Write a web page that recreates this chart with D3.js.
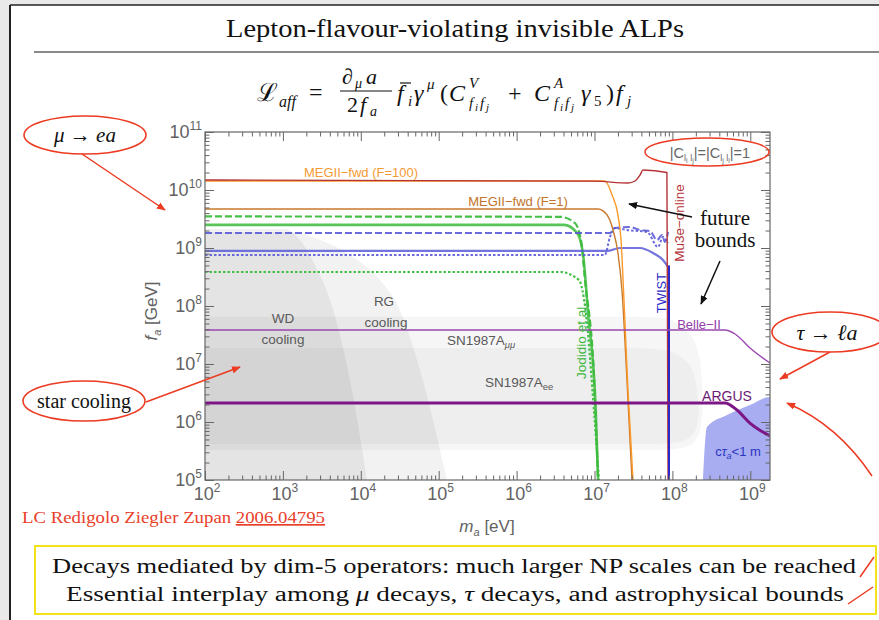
<!DOCTYPE html>
<html><head><meta charset="utf-8">
<script src="https://cdn.jsdelivr.net/npm/d3@7/dist/d3.min.js"></script>
<style>
html,body{margin:0;padding:0;background:#fff;}
svg{display:block;}
</style></head>
<body>
<svg id="chart" width="879" height="620"></svg>
<script>
// ---------------- DATA ----------------
const xTickVals = [1e2,1e3,1e4,1e5,1e6,1e7,1e8,1e9];
const xTickExps = ["2","3","4","5","6","7","8","9"];
const yTickVals = [1e5,1e6,1e7,1e8,1e9,1e10,1e11];
const yTickExps = ["5","6","7","8","9","10","11"];

// [m_a (eV), f_a (GeV)]
const megF100 = [[1e2,1.43e10],[1.36e7,1.43e10],[1.68e7,8.2e9],[2.0e7,3.7e9],[2.19e7,1.37e9],[2.39e7,1.27e8],[2.69e7,3.56e6],[3.12e7,1e5]];
const megF1   = [[1e2,4.7e9],[1.11e7,4.7e9],[1.45e7,3.7e9],[1.73e7,2.04e9],[2.0e7,8.2e8],[2.25e7,1.89e8],[2.61e7,5.3e6],[3.03e7,1e5]];
const mu3e    = [[1e2,1.49e10],[1.0e7,1.42e10],[2.69e7,1.32e10],[3.31e7,1.43e10],[3.84e7,1.81e10],[4.2e7,2.21e10],[8.5e7,2.0e10],[8.8e7,1e5]];
const greenDashed = [[1e2,3.5e9],[3.6e6,3.45e9],[5.6e6,2.7e9],[6.7e6,1.37e9],[7.55e6,2.8e8],[9.9e6,5.3e6],[1.11e7,1e5]];
const greenSolid  = [[1e2,2.5e9],[4.06e6,2.5e9],[5.96e6,1.82e9],[7.1e6,8.2e8],[8.26e6,7.6e7],[1.04e7,1.43e6],[1.11e7,1e5]];
const greenDotted = [[1e2,3.86e8],[3.6e6,3.86e8],[6.32e6,2.8e8],[7.75e6,7.6e7],[9.9e6,1.43e6],[1.14e7,1e5]];
const blueDashed = [[1e2,1.82e9],[1.58e7,1.82e9],[1.83e7,2.21e9],[2.86e7,2.3e9],[3.84e7,2.04e9],[5.15e7,1.96e9],[6.34e7,1.37e9],[7.35e7,1.67e9],[8.03e7,1.27e9],[8.8e7,1.89e9]];
const blueDotted = [[1e2,7.6e8],[1.36e7,7.6e8],[1.58e7,1.55e9],[1.83e7,2.21e9],[2.61e7,2.04e9],[4.72e7,1.89e9],[6.53e7,1.04e9],[7.57e7,1.55e9],[8.8e7,1.22e9]];
const blueSolid  = [[1e2,8.9e8],[1.45e7,8.9e8],[2.12e7,1.0e9],[3.84e7,1.0e9],[5.64e7,8.2e8],[7.57e7,6.2e8],[8.8e7,4.7e8]];
const twist      = [[9.05e7,5.0e8],[9.05e7,1e5]];
const belle2     = [[1e2,3.86e7],[4.73e8,3.86e7],[6.37e8,3.29e7],[9.9e8,1.89e7],[1.79e9,1.04e7]];
const argus      = [[1e2,2.13e6],[4.73e8,2.13e6],[6.74e8,1.61e6],[9.9e8,9.6e5],[1.79e9,5.74e5]];
const ctauRegion = [[2.47e8,1e5],[2.78e8,8.2e5],[5.02e8,1.32e6],[9.9e8,1.96e6],[1.79e9,2.7e6],[1.79e9,1e5]];
// star-cooling regions: [m, f_top, f_bottom]
const wdRegion  = [[50,2.13e9,1e4],[1.06e3,2.13e9,1e4],[1.66e3,1.37e9,1e4],[2.58e3,5.1e8,1e4],[4.03e3,1.27e8,1e4],[7.26e3,5.3e6,1e4],[1.2e4,1e5,1e4]];
const rgRegion  = [[50,1.89e9,1e4],[1.23e3,1.89e9,1e4],[3.0e3,1.37e9,1e4],[7.26e3,7.6e8,1e4],[1.76e4,2.8e8,1e4],[3.18e4,8.5e7,1e4],[5.75e4,7.9e6,1e4],[1.28e5,1e5,1e4]];
const snMuRegion = [[50,6.5e7,3.29e5],[3.84e7,6.5e7,3.29e5],[6.93e7,6.2e7,3.29e5],[1.08e8,5.3e7,3.42e5],[1.58e8,3.56e7,3.85e5],[2.07e8,1.89e7,5.3e5],[2.33e8,7.9e6,8.9e5],[2.47e8,2.39e6,2.39e6]];
const snEeRegion = [[50,1.89e7,4.18e5],[2.86e7,1.89e7,4.18e5],[5.98e7,1.82e7,4.18e5],[9.9e7,1.61e7,4.35e5],[1.45e8,1.17e7,4.9e5],[1.84e8,7.3e6,6.2e5],[2.07e8,3.56e6,8.9e5],[2.19e8,1.61e6,1.61e6]];

// ---------------- SETUP ----------------
const svg = d3.select('#chart');
const X0=205, X1=770, Y0=480, Y1=132;
const x = d3.scaleLog().domain([1e2,1.79e9]).range([X0,X1]);
const y = d3.scaleLog().domain([1e5,1e11]).range([Y0,Y1]);

const defs = svg.append('defs');
defs.append('clipPath').attr('id','plotclip').append('rect')
  .attr('x',X0).attr('y',Y1).attr('width',X1-X0).attr('height',Y0-Y1);
function marker(id,color){
  defs.append('marker').attr('id',id).attr('viewBox','0 0 10 10').attr('refX',9).attr('refY',5)
    .attr('markerWidth',9).attr('markerHeight',9).attr('markerUnits','userSpaceOnUse').attr('orient','auto')
    .append('path').attr('d','M0,1 L10,5 L0,9 z').attr('fill',color);
}
marker('arrRed','#ec3b22');
marker('arrBlack','#111');

// slide background / frame
svg.append('rect').attr('x',0).attr('y',0).attr('width',879).attr('height',620).attr('fill','#e9e9e9');
svg.append('rect').attr('x',10).attr('y',5).attr('width',869).attr('height',615).attr('fill','#fff');
svg.append('line').attr('x1',10).attr('x2',10).attr('y1',5).attr('y2',620).attr('stroke','#222').attr('stroke-width',2);
svg.append('line').attr('x1',10).attr('x2',879).attr('y1',5).attr('y2',5).attr('stroke','#222').attr('stroke-width',1.5);

function T(xp,yp,s,attrs){
  const t=svg.append('text').attr('x',xp).attr('y',yp).text(s);
  for(const k in attrs) t.attr(k,attrs[k]);
  return t;
}
const serif="'Liberation Serif','Times New Roman',serif";
const sans="'Liberation Sans',Arial,sans-serif";

// title
T(455,37,"Lepton-flavour-violating invisible ALPs",{'font-family':serif,'font-size':25,'text-anchor':'middle','fill':'#111','textLength':458,'lengthAdjust':'spacingAndGlyphs'});
svg.append('line').attr('x1',34).attr('x2',879).attr('y1',52).attr('y2',52).attr('stroke','#8a8a8a').attr('stroke-width',2);

// formula
const fm={'font-family':serif,'fill':'#111'};
const fi=Object.assign({'font-style':'italic'},fm);
T(257,101,"ℒ",Object.assign({'font-size':25,'font-family':"'DejaVu Serif',serif"},{fill:'#111'}));
T(279,107,"aff",Object.assign({'font-size':16},fi));
T(309,100,"=",Object.assign({'font-size':24},fm));
T(342,84,"∂",Object.assign({'font-size':22},fi));
T(355,88,"μ",Object.assign({'font-size':14},fi));
T(366,84,"a",Object.assign({'font-size':22},fi));
svg.append('line').attr('x1',340).attr('x2',392).attr('y1',91).attr('y2',91).attr('stroke','#111').attr('stroke-width',1.2);
T(347,112,"2",Object.assign({'font-size':22},fm));
T(360,112,"f",Object.assign({'font-size':22},fi));
T(370,116,"a",Object.assign({'font-size':14},fi));
T(397,101,"f",Object.assign({'font-size':24},fi));
svg.append('line').attr('x1',400).attr('x2',411).attr('y1',83).attr('y2',83).attr('stroke','#111').attr('stroke-width',1.2);
T(408,106,"i",Object.assign({'font-size':15},fi));
T(414,101,"γ",Object.assign({'font-size':24},fi));
T(427,89,"μ",Object.assign({'font-size':15},fi));
T(440,101,"(",Object.assign({'font-size':24},fm));
T(449,101,"C",Object.assign({'font-size':24},fi));
T(469,88,"V",Object.assign({'font-size':15},fi));
T(469,108,"f",Object.assign({'font-size':15},fi)); T(475,111,"i",Object.assign({'font-size':11},fi));
T(480,108,"f",Object.assign({'font-size':15},fi)); T(486,111,"j",Object.assign({'font-size':11},fi));
T(508,101,"+",Object.assign({'font-size':24},fm));
T(534,101,"C",Object.assign({'font-size':24},fi));
T(554,88,"A",Object.assign({'font-size':15},fi));
T(554,108,"f",Object.assign({'font-size':15},fi)); T(560,111,"i",Object.assign({'font-size':11},fi));
T(565,108,"f",Object.assign({'font-size':15},fi)); T(571,111,"j",Object.assign({'font-size':11},fi));
T(581,101,"γ",Object.assign({'font-size':24},fi));
T(594,106,"5",Object.assign({'font-size':15},fm));
T(606,101,")",Object.assign({'font-size':24},fm));
T(616,101,"f",Object.assign({'font-size':24},fi));
T(627,106,"j",Object.assign({'font-size':15},fi));

// ---------------- PLOT ----------------
const plot = svg.append('g').attr('clip-path','url(#plotclip)');
const bandArea = d3.area().x(d=>x(d[0])).y0(d=>y(d[2])).y1(d=>y(d[1])).curve(d3.curveMonotoneX);
plot.append('path').attr('d',bandArea(wdRegion)).attr('fill','#000').attr('fill-opacity',0.055);
plot.append('path').attr('d',bandArea(rgRegion)).attr('fill','#000').attr('fill-opacity',0.05);
plot.append('path').attr('d',bandArea(snMuRegion)).attr('fill','#000').attr('fill-opacity',0.035);
plot.append('path').attr('d',bandArea(snEeRegion)).attr('fill','#000').attr('fill-opacity',0.03);

plot.append('path').attr('d',d3.line().x(d=>x(d[0])).y(d=>y(d[1])).curve(d3.curveMonotoneX)(ctauRegion))
  .attr('fill','#9fa3ef').attr('fill-opacity',0.9);

const L = d3.line().x(d=>x(d[0])).y(d=>y(d[1])).curve(d3.curveMonotoneX);
const Llin = d3.line().x(d=>x(d[0])).y(d=>y(d[1]));
function draw(data,color,w,dash,op,lin){
  plot.append('path').attr('d',(lin?Llin:L)(data)).attr('fill','none').attr('stroke',color)
    .attr('stroke-width',w).attr('stroke-dasharray',dash||null).attr('stroke-opacity',op||1)
    .attr('stroke-linejoin','round');
}
draw(greenDotted,'#46c046',2.2,'2.5,2');
draw(greenDashed,'#46c046',2.2,'7,3');
draw(greenSolid,'#3cba3c',2.6,null,0.85);
draw(blueDashed,'#5a5ad6',2,'7,3',0.9);
draw(blueDotted,'#5a5ad6',2,'2.5,2',0.9);
draw(blueSolid,'#5c5cd8',2.2,null,0.85);
draw(megF1,'#c97a2c',1.4);
draw(megF100,'#fb9a2a',1.4);
draw(mu3e,'#b53336',1.4);
draw(twist,'#2a2ac8',2,null,1,true);
draw(belle2,'#9a48b0',1.4);
draw(argus,'#7c1686',3);

// ---------------- AXES ----------------
const minorVals = (maj,max)=>{const a=[];maj.forEach(v=>{for(let k=2;k<10;k++){if(v*k<=max)a.push(v*k);}});return a;};
const xMinor = minorVals(xTickVals,1.79e9);
const yMinor = minorVals(yTickVals.slice(0,-1),1e11);
function ax(gen,tx,ty,vals,len){
  const g=svg.append('g').attr('transform',`translate(${tx},${ty})`)
    .call(gen.tickValues(vals).tickSize(len).tickSizeOuter(0).tickFormat(''));
  g.select('.domain').remove();
  g.selectAll('line').attr('stroke','#666').attr('stroke-width',1);
  return g;
}
ax(d3.axisBottom(x),0,Y0,xTickVals,-9); ax(d3.axisBottom(x),0,Y0,xMinor,-4.5);
ax(d3.axisTop(x),0,Y1,xTickVals,-9);    ax(d3.axisTop(x),0,Y1,xMinor,-4.5);
ax(d3.axisLeft(y),X0,0,yTickVals,-9);   ax(d3.axisLeft(y),X0,0,yMinor,-4.5);
ax(d3.axisRight(y),X1,0,yTickVals,-9);  ax(d3.axisRight(y),X1,0,yMinor,-4.5);
svg.append('rect').attr('x',X0).attr('y',Y1).attr('width',X1-X0).attr('height',Y0-Y1)
  .attr('fill','none').attr('stroke','#666').attr('stroke-width',1.2);

const tickCol='#626262';
xTickVals.forEach((v,i)=>{
  const t=svg.append('text').attr('x',x(v)+2).attr('y',Y0+20).attr('text-anchor','middle')
    .attr('font-family',sans).attr('font-size',18).attr('fill',tickCol);
  t.append('tspan').text('10');
  t.append('tspan').attr('dy',-8).attr('font-size',12).text(xTickExps[i]);
});
yTickVals.forEach((v,i)=>{
  const t=svg.append('text').attr('x',X0-3).attr('y',y(v)+6).attr('text-anchor','end')
    .attr('font-family',sans).attr('font-size',18).attr('fill',tickCol);
  t.append('tspan').text('10');
  t.append('tspan').attr('dy',-8).attr('font-size',12).text(yTickExps[i]);
});
// axis titles
{
  const t=svg.append('text').attr('x',487).attr('y',532).attr('text-anchor','middle')
    .attr('font-family',sans).attr('font-size',17).attr('fill',tickCol);
  t.append('tspan').attr('font-style','italic').text('m');
  t.append('tspan').attr('font-size',11).attr('dy',4).attr('font-style','italic').text('a');
  t.append('tspan').attr('dy',-4).text(' [eV]');
  const u=svg.append('text').attr('transform','translate(157,311) rotate(-90)').attr('text-anchor','middle')
    .attr('font-family',sans).attr('font-size',17).attr('fill',tickCol);
  u.append('tspan').attr('font-style','italic').text('f');
  u.append('tspan').attr('font-size',11).attr('dy',4).attr('font-style','italic').text('a');
  u.append('tspan').attr('dy',-4).text(' [GeV]');
}

// ---------------- PLOT LABELS ----------------
const lab=(xp,yp,s,col,sz,anchor)=>T(xp,yp,s,{'font-family':sans,'font-size':sz||13,'fill':col,'text-anchor':anchor||'middle'});
lab(361,177,"MEGII−fwd (F=100)",'#f49a34',13);
lab(518,206,"MEGII−fwd (F=1)",'#c07328',13);
lab(283,323,"WD",'#595959',13.5); lab(283,344,"cooling",'#595959',13.5);
lab(384,306,"RG",'#595959',13.5); lab(386,327,"cooling",'#595959',13.5);
{
  const t=lab(447,345,"SN1987A",'#595959',13.5,'start');
  t.append('tspan').attr('font-size',9.5).attr('dy',3).attr('font-style','italic').text('μμ');
  const u=lab(485,387,"SN1987A",'#595959',13.5,'start');
  u.append('tspan').attr('font-size',9.5).attr('dy',3).text('ee');
}
lab(699,329,"Belle−II",'#9040a8',13);
lab(727,401,"ARGUS",'#6c1a78',14);
{
  const t=lab(738,456,"c",'#2a36c0',13);
  t.append('tspan').attr('font-style','italic').text('τ');
  t.append('tspan').attr('font-size',9).attr('dy',3).attr('font-style','italic').text('a');
  t.append('tspan').attr('dy',-3).text('<1 m');
}
const rot=(xp,yp,s,col,sz)=>T(0,0,s,{'font-family':sans,'font-size':sz,'fill':col,'text-anchor':'middle','transform':`translate(${xp},${yp}) rotate(-90)`,'dy':'0.36em'});
rot(581,341,"Jodidio et al.",'#3cb83c',13.5);
rot(661,293,"TWIST",'#2a2ac8',13);
rot(679,223,"Mu3e−online",'#b53336',13.5);

// |C| label
{
  const t=T(710,158,"|C",{'font-family':sans,'font-size':14.5,'fill':'#666','text-anchor':'middle'});
  t.append('tspan').attr('font-size',9).attr('dy',3).text('l');
  t.append('tspan').attr('font-size',7).attr('dy',2).text('i');
  t.append('tspan').attr('font-size',9).attr('dy',-2).text(' l');
  t.append('tspan').attr('font-size',7).attr('dy',2).text('j');
  t.append('tspan').attr('dy',-5).text('|=|C');
  t.append('tspan').attr('font-size',9).attr('dy',3).text('l');
  t.append('tspan').attr('font-size',7).attr('dy',2).text('j');
  t.append('tspan').attr('font-size',9).attr('dy',-2).text(' l');
  t.append('tspan').attr('font-size',7).attr('dy',2).text('i');
  t.append('tspan').attr('dy',-5).text('|=1');
}
svg.append('ellipse').attr('cx',707).attr('cy',152).attr('rx',62).attr('ry',14)
  .attr('fill','none').attr('stroke','#ec3b22').attr('stroke-width',1.5);

// future bounds
T(725,225,"future",{'font-family':serif,'font-size':21,'fill':'#111','text-anchor':'middle'});
T(725,247,"bounds",{'font-family':serif,'font-size':21,'fill':'#111','text-anchor':'middle'});
svg.append('line').attr('x1',692).attr('y1',217).attr('x2',629).attr('y2',204).attr('stroke','#111').attr('stroke-width',1.5).attr('marker-end','url(#arrBlack)');
svg.append('line').attr('x1',720).attr('y1',261).attr('x2',701).attr('y2',304).attr('stroke','#111').attr('stroke-width',1.5).attr('marker-end','url(#arrBlack)');

// ---------------- ANNOTATIONS ----------------
const red='#ec3b22';
function ell(cx,cy,rx,ry){svg.append('ellipse').attr('cx',cx).attr('cy',cy).attr('rx',rx).attr('ry',ry).attr('fill','none').attr('stroke',red).attr('stroke-width',1.6);}
ell(85,135,61,19);
{
  const t=T(85,142,"",{'font-family':serif,'font-size':21,'fill':'#111','text-anchor':'middle'});
  t.append('tspan').attr('font-style','italic').text('μ');
  t.append('tspan').text(' → ');
  t.append('tspan').attr('font-style','italic').text('ea');
}
svg.append('line').attr('x1',82).attr('y1',154).attr('x2',165).attr('y2',210).attr('stroke',red).attr('stroke-width',1.5).attr('marker-end','url(#arrRed)');
ell(84,401,61,20);
T(84,408,"star cooling",{'font-family':serif,'font-size':20,'fill':'#111','text-anchor':'middle'});
svg.append('line').attr('x1',146).attr('y1',402).attr('x2',240).attr('y2',367).attr('stroke',red).attr('stroke-width',1.5).attr('marker-end','url(#arrRed)');
ell(830,332,58,20);
{
  const t=T(827,340,"",{'font-family':serif,'font-size':22,'fill':'#111','text-anchor':'middle'});
  t.append('tspan').attr('font-style','italic').text('τ');
  t.append('tspan').text(' → ');
  t.append('tspan').attr('font-style','italic').text('ℓa');
}
svg.append('line').attr('x1',830).attr('y1',352).attr('x2',780).attr('y2',379).attr('stroke',red).attr('stroke-width',1.5).attr('marker-end','url(#arrRed)');
svg.append('path').attr('d','M872,476 Q838,425 787,403').attr('fill','none').attr('stroke',red).attr('stroke-width',1.5).attr('marker-end','url(#arrRed)');
svg.append('line').attr('x1',860).attr('y1',577).attr('x2',874).attr('y2',557).attr('stroke',red).attr('stroke-width',1.5);
svg.append('line').attr('x1',848).attr('y1',604).attr('x2',873).attr('y2',587).attr('stroke',red).attr('stroke-width',1.5);

// citation
{
  const t=T(22,523,"",{'font-family':serif,'font-size':17,'fill':'#e8402a','textLength':303,'lengthAdjust':'spacingAndGlyphs'});
  t.append('tspan').text('LC Redigolo Ziegler Zupan ');
  t.append('tspan').attr('text-decoration','underline').text('2006.04795');
}

// yellow box
svg.append('rect').attr('x',35).attr('y',546).attr('width',841).attr('height',68).attr('fill','none').attr('stroke','#f2e318').attr('stroke-width',2);
T(454,573,"Decays mediated by dim-5 operators: much larger NP scales can be reached",{'font-family':serif,'font-size':20,'fill':'#111','text-anchor':'middle','textLength':804,'lengthAdjust':'spacingAndGlyphs'});
{
  const t=T(455,601,"",{'font-family':serif,'font-size':20,'fill':'#111','text-anchor':'middle','textLength':778,'lengthAdjust':'spacingAndGlyphs'});
  t.append('tspan').text('Essential interplay among ');
  t.append('tspan').attr('font-style','italic').text('μ');
  t.append('tspan').text(' decays, ');
  t.append('tspan').attr('font-style','italic').text('τ');
  t.append('tspan').text(' decays, and astrophysical bounds');
}
</script>
</body></html>
